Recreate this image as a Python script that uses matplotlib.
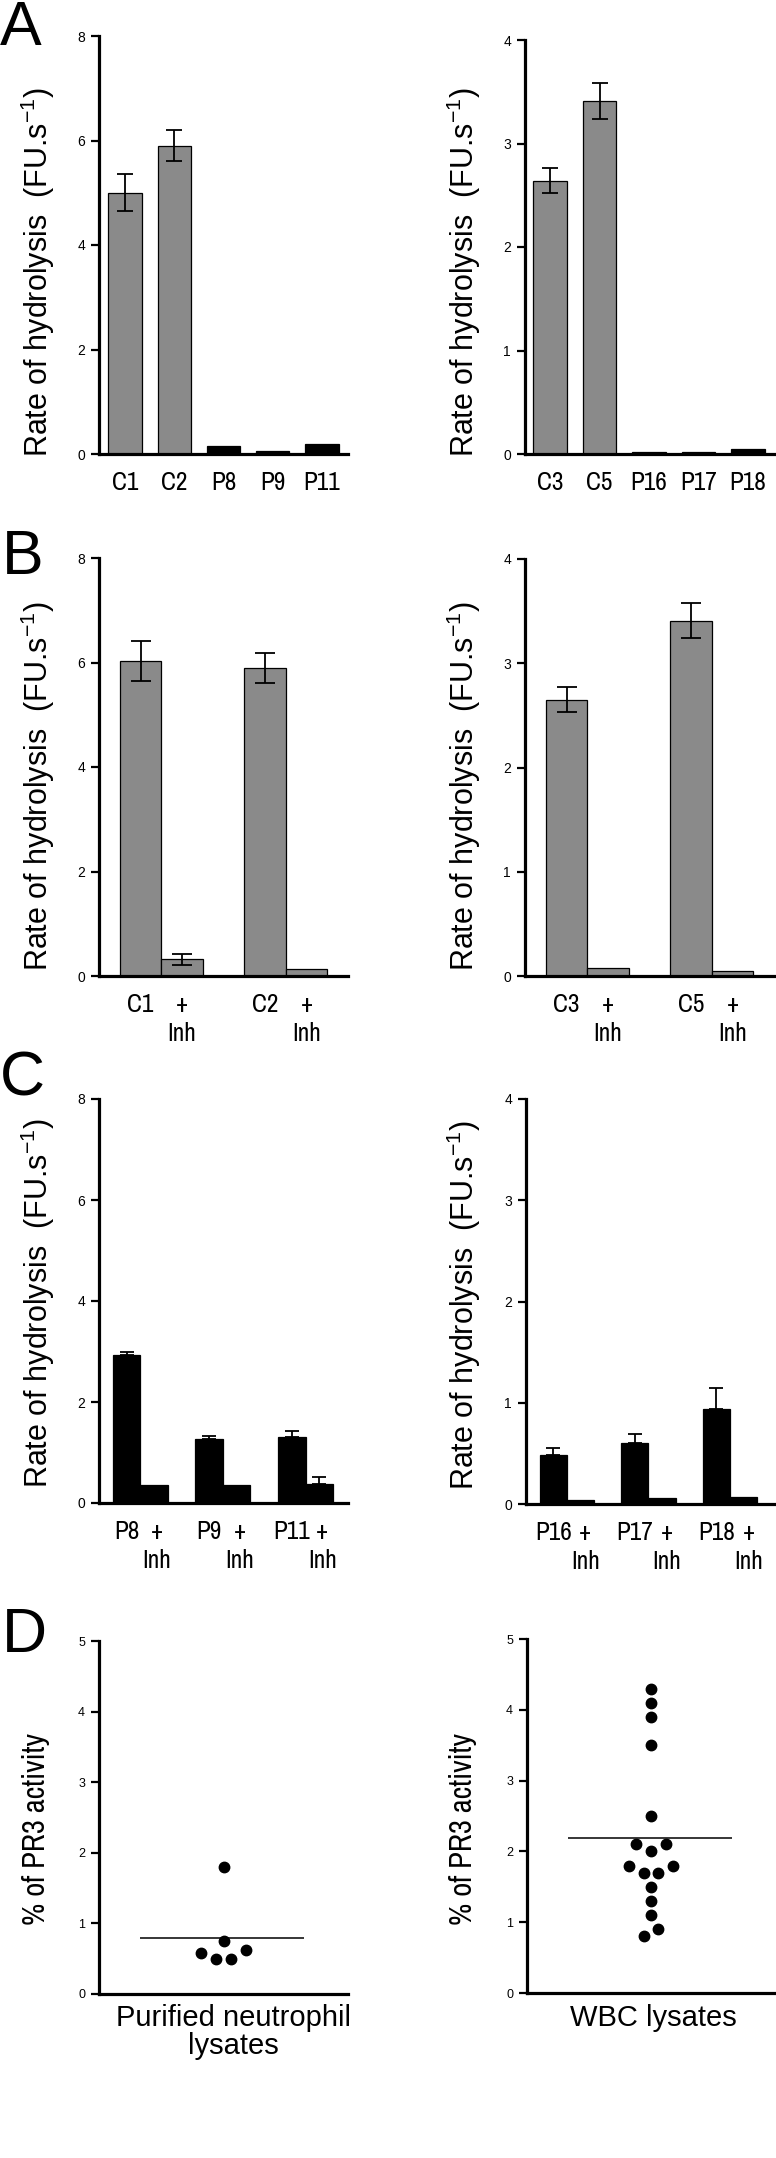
import matplotlib
matplotlib.use('Agg')
import matplotlib.pyplot as plt
import matplotlib.transforms as mtransforms
from matplotlib import font_manager as fm
from matplotlib.font_manager import FontProperties
import numpy as np

names = {f.name for f in fm.fontManager.ttflist}
REG = 'Liberation Sans' if 'Liberation Sans' in names else 'DejaVu Sans'
plt.rcParams['font.family'] = [REG, 'DejaVu Sans']
plt.rcParams['mathtext.default'] = 'regular'


def find_narrow():
    cands = []
    for f in fm.fontManager.ttflist:
        if f.style != 'normal' or str(f.weight) not in ('400', 'normal', 'regular', 'book'):
            continue
        if 'Narrow' in f.name:
            cands.append((0, f.fname))
        elif str(f.stretch) in ('condensed', 'semi-condensed') and 'Sans' in f.name \
                and 'Mono' not in f.name and 'CJK' not in f.name:
            cands.append((1, f.fname))
    cands.sort()
    return cands[0][1] if cands else None


NARROW_FILE = find_narrow()


def narrow_props(size):
    if NARROW_FILE:
        return FontProperties(fname=NARROW_FILE, size=size)
    return FontProperties(family=REG, size=size * 0.85)


# ---------------- data ----------------
a_left_labels = ['C1', 'C2', 'P8', 'P9', 'P11']
a_left_vals = [5.0, 5.9, 0.15, 0.06, 0.20]
a_left_err = [0.35, 0.30, 0.0, 0.0, 0.0]

a_right_labels = ['C3', 'C5', 'P16', 'P17', 'P18']
a_right_vals = [2.64, 3.41, 0.02, 0.02, 0.05]
a_right_err = [0.12, 0.17, 0.0, 0.0, 0.0]

b_left_labels = ['C1', '+\nInh', 'C2', '+\nInh']
b_left_vals = [6.03, 0.32, 5.90, 0.13]
b_left_err = [0.39, 0.10, 0.29, 0.0]

b_right_labels = ['C3', '+\nInh', 'C5', '+\nInh']
b_right_vals = [2.65, 0.08, 3.41, 0.045]
b_right_err = [0.12, 0.0, 0.17, 0.0]

c_left_labels = ['P8', '+\nInh', 'P9', '+\nInh', 'P11', '+\nInh']
c_left_vals = [2.94, 0.35, 1.27, 0.36, 1.31, 0.38]
c_left_err = [0.05, 0.0, 0.05, 0.0, 0.12, 0.14]

c_right_labels = ['P16', '+\nInh', 'P17', '+\nInh', 'P18', '+\nInh']
c_right_vals = [0.48, 0.04, 0.60, 0.06, 0.94, 0.07]
c_right_err = [0.07, 0.0, 0.09, 0.0, 0.21, 0.0]

purified_vals = [1.8, 0.75, 0.58, 0.62, 0.50, 0.50]
purified_offset = [0.0, 0.0, -0.09, 0.09, -0.03, 0.03]

wbc_vals = [4.3, 4.1, 3.9, 3.5, 2.5, 2.1, 2.1, 2.0, 1.8, 1.8, 1.7, 1.7,
            1.5, 1.3, 1.1, 0.9, 0.8]
wbc_offset = [0.0, 0.0, 0.0, 0.0, 0.0, -0.06, 0.06, 0.0, -0.09, 0.09,
              -0.03, 0.03, 0.0, 0.0, 0.0, 0.03, -0.03]

ylabel_rate = 'Rate of hydrolysis  (FU.s$^{-1}$)'
ylabel_pct = '% of PR3 activity'

# ---------------- layout ----------------
W, H = 776, 2158
fig = plt.figure(figsize=(W / 100, H / 100), dpi=100)
GREY = '#8a8a8a'
RENDERER = fig.canvas.get_renderer()


def text_len(t):
    bb = t.get_window_extent(renderer=RENDERER)
    return max(bb.width, bb.height)


# size of the narrow tick-label font so that "P16" is ~37 px wide
_probe = fig.text(0, 0, 'P16', fontproperties=narrow_props(20))
TICK_SIZE = min(24.0, 20 * 37.0 / _probe.get_window_extent(renderer=RENDERER).width)
_probe.remove()


def add_ax(x0, x1, y0, y1):
    return fig.add_axes([x0 / W, 1 - y1 / H, (x1 - x0) / W, (y1 - y0) / H])


def style(ax, ymax, step):
    for s in ('top', 'right'):
        ax.spines[s].set_visible(False)
    for s in ('left', 'bottom'):
        ax.spines[s].set_linewidth(2.3)
    ax.set_ylim(0, ymax)
    ticks = np.arange(0, ymax + 0.01, step)
    ax.set_yticks(ticks)
    ax.set_yticklabels([f'{v:g}' for v in ticks])
    ax.tick_params(axis='y', length=6, width=1.6, labelsize=10, pad=4)
    ax.tick_params(axis='x', length=0, pad=12)


def bars(ax, labels, vals, errs, colors, width, capsize, xlim, pos,
         one_sided=False, inh_shift=0):
    ax.bar(pos, vals, width=width, color=colors, edgecolor='black',
           linewidth=0.9, zorder=2)
    idx = [i for i, e in enumerate(errs) if e > 0]
    px = [pos[i] for i in idx]
    py = [vals[i] for i in idx]
    pe = [errs[i] for i in idx]
    yerr = [np.zeros(len(pe)), pe] if one_sided else pe
    ax.errorbar(px, py, yerr=yerr, fmt='none', ecolor='black',
                elinewidth=1.3, capsize=capsize, capthick=1.3, zorder=3)
    ax.set_xlim(*xlim)
    ax.set_xticks(pos)
    tls = ax.set_xticklabels(labels, fontproperties=narrow_props(TICK_SIZE),
                             linespacing=1.35, va='top', ha='center')
    if inh_shift:
        off = mtransforms.ScaledTranslation(inh_shift / 100, 0, fig.dpi_scale_trans)
        for tl in tls:
            if tl.get_text().startswith('+'):
                tl.set_transform(tl.get_transform() + off)


def ylab(x, y, text, size=22, target=None, props=None):
    if props is not None:
        t = fig.text(x / W, 1 - y / H, text, rotation=90, ha='center',
                     va='center', fontproperties=props)
    else:
        t = fig.text(x / W, 1 - y / H, text, rotation=90, ha='center',
                     va='center', fontsize=size, fontfamily=REG)
    if target:
        t.set_fontsize(t.get_fontsize() * target / text_len(t))
    return t


def letter(x, y, t):
    fig.text(x / W, 1 - y / H, t, fontsize=45, ha='left', va='baseline')


def grouped_positions(n):
    return [3 * (i // 2) + (i % 2) for i in range(n)]


def color_by_label(labels):
    return [GREY if l.startswith('C') else 'black' for l in labels]


# Panel A
ax = add_ax(99, 348, 36, 454)
style(ax, 8, 2)
bars(ax, a_left_labels, a_left_vals, a_left_err, color_by_label(a_left_labels),
     0.68, 6, (-0.53, 4.53), list(range(len(a_left_labels))))
ax = add_ax(525, 775, 40, 454)
style(ax, 4, 1)
bars(ax, a_right_labels, a_right_vals, a_right_err, color_by_label(a_right_labels),
     0.67, 6, (-0.505, 4.545), list(range(len(a_right_labels))))

# Panel B
ax = add_ax(99, 348, 558, 976)
style(ax, 8, 2)
bars(ax, b_left_labels, b_left_vals, b_left_err, GREY, 1.0, 7.5, (-1.0, 5.0),
     grouped_positions(len(b_left_labels)))
ax = add_ax(525, 775, 559, 976)
style(ax, 4, 1)
bars(ax, b_right_labels, b_right_vals, b_right_err, GREY, 1.0, 7.5, (-1.0, 5.02),
     grouped_positions(len(b_right_labels)))

# Panel C
ax = add_ax(99, 348, 1099, 1503)
style(ax, 8, 2)
bars(ax, c_left_labels, c_left_vals, c_left_err, 'black', 1.0, 5, (-1.0, 8.04),
     grouped_positions(len(c_left_labels)), one_sided=True, inh_shift=3)
ax = add_ax(526, 775, 1099, 1504)
style(ax, 4, 1)
bars(ax, c_right_labels, c_right_vals, c_right_err, 'black', 1.0, 5, (-1.0, 8.15),
     grouped_positions(len(c_right_labels)), one_sided=True, inh_shift=5)

# Panel D
for (x0, x1, y0, y1), vals, offs, xl, xc in [
        ((99, 348, 1641, 1994), purified_vals, purified_offset,
         'Purified neutrophil\nlysates', 233),
        ((527, 775, 1639, 1993), wbc_vals, wbc_offset, 'WBC lysates', 653)]:
    ax = add_ax(x0, x1, y0, y1)
    style(ax, 5, 1)
    ax.tick_params(axis='y', labelsize=9)
    ax.set_xlim(0, 1)
    ax.set_xticks([])
    ax.plot(0.5 + np.array(offs), vals, 'o', color='black', markersize=7.5,
            zorder=3, clip_on=False)
    ax.hlines(np.mean(vals), 0.165, 0.825, color='black', linewidth=1.1, zorder=2)
    fig.text(xc / W, 1 - 2004 / H, xl, ha='center', va='top', fontsize=21,
             linespacing=1.0)

# y labels
ylab(37.5, 272, ylabel_rate)
ylab(464, 272, ylabel_rate)
ylab(37.5, 786, ylabel_rate)
ylab(464, 786, ylabel_rate)
ylab(37.5, 1303, ylabel_rate)
ylab(464, 1305, ylabel_rate)
ylab(36.5, 1829, ylabel_pct, target=192, props=narrow_props(22))
ylab(463, 1829, ylabel_pct, target=192, props=narrow_props(22))

letter(0, 45, 'A')
letter(2, 574, 'B')
letter(0, 1095, 'C')
letter(2, 1652, 'D')

fig.savefig('out.png', dpi=100)
